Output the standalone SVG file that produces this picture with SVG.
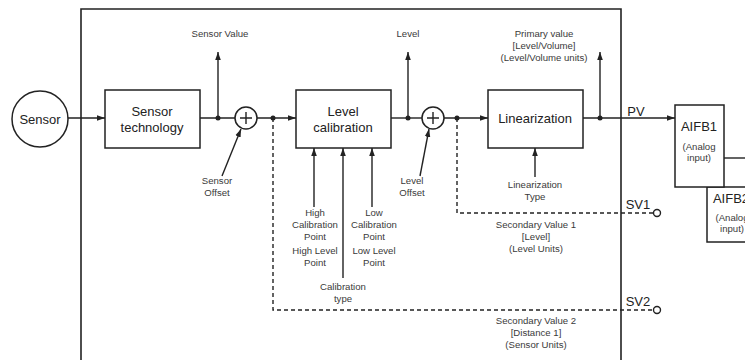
<svg xmlns="http://www.w3.org/2000/svg" width="745" height="360" viewBox="0 0 745 360">
<style>
.ln{stroke:#222;stroke-width:1.4;fill:none}
.fr{stroke:#222;stroke-width:1.6;fill:none}
.ds{stroke:#222;stroke-width:1.4;fill:none;stroke-dasharray:4,3}
.bx{stroke:#222;stroke-width:1.5;fill:#fff}
.t{font-family:"Liberation Sans",Arial,sans-serif;fill:#222;text-anchor:middle}
.b{font-size:13px}
.s{font-size:9.6px;fill:#3a3a3a}
.m{font-size:13px}
.dot{fill:#222}
</style>
<defs>
<marker id="ah" viewBox="0 0 10 10" refX="10" refY="5" markerWidth="8" markerHeight="8" markerUnits="userSpaceOnUse" orient="auto"><path d="M0,1.5 L10,5 L0,8.5 z" fill="#222"/></marker>
</defs>
<g id="frame"><path class="fr" d="M81,360 V9 H621 V360"/></g>
<g id="connectors">
<line class="ln" x1="68" y1="118" x2="105" y2="118" marker-end="url(#ah)"/>
<line class="ln" x1="200" y1="118" x2="235" y2="118"/>
<line class="ln" x1="218" y1="118" x2="218" y2="52" marker-end="url(#ah)"/>
<line class="ln" x1="222" y1="176" x2="241" y2="129" marker-end="url(#ah)"/>
<line class="ln" x1="257" y1="118" x2="296" y2="118" marker-end="url(#ah)"/>
<line class="ln" x1="391" y1="118" x2="422" y2="118"/>
<line class="ln" x1="408" y1="118" x2="408" y2="52" marker-end="url(#ah)"/>
<line class="ln" x1="420" y1="176" x2="429" y2="129" marker-end="url(#ah)"/>
<line class="ln" x1="444" y1="118" x2="488" y2="118" marker-end="url(#ah)"/>
<line class="ln" x1="583" y1="118" x2="675" y2="118" marker-end="url(#ah)"/>
<line class="ln" x1="600" y1="118" x2="600" y2="52" marker-end="url(#ah)"/>
<line class="ln" x1="314" y1="207" x2="314" y2="148" marker-end="url(#ah)"/>
<line class="ln" x1="343" y1="278" x2="343" y2="148" marker-end="url(#ah)"/>
<line class="ln" x1="372" y1="207" x2="372" y2="148" marker-end="url(#ah)"/>
<line class="ln" x1="535" y1="177" x2="535" y2="148" marker-end="url(#ah)"/>
<path class="ds" d="M273,118 V310 H653.5"/>
<path class="ds" d="M457,118 V213 H653.5"/>
<line class="ln" x1="724" y1="158" x2="745" y2="158"/>
<circle class="dot" cx="218" cy="118" r="2.5"/>
<circle class="dot" cx="273" cy="118" r="2.5"/>
<circle class="dot" cx="408" cy="118" r="2.5"/>
<circle class="dot" cx="457" cy="118" r="2.5"/>
<circle class="dot" cx="600" cy="118" r="2.5"/>
<circle cx="657" cy="213" r="3.5" fill="#fff" stroke="#222" stroke-width="1.4"/>
<circle cx="657" cy="310" r="3.5" fill="#fff" stroke="#222" stroke-width="1.4"/>
</g>
<g id="sensor"><circle class="bx" cx="40" cy="119" r="28"/><text class="t m" x="40" y="123.5">Sensor</text></g>
<g id="sensor-technology"><rect class="bx" x="105" y="90" width="95" height="58"/><text class="t b" x="152" y="116">Sensor</text><text class="t b" x="152" y="132">technology</text></g>
<g id="sum1"><circle class="bx" cx="246" cy="118" r="11"/><path class="ln" d="M240,118 H252 M246,112 V124"/></g>
<g id="level-calibration"><rect class="bx" x="296" y="90" width="95" height="58"/><text class="t b" x="343" y="116">Level</text><text class="t b" x="343" y="132">calibration</text></g>
<g id="sum2"><circle class="bx" cx="433" cy="118" r="11"/><path class="ln" d="M427,118 H439 M433,112 V124"/></g>
<g id="linearization"><rect class="bx" x="488" y="90" width="95" height="58"/><text class="t b" x="535" y="123">Linearization</text></g>
<g id="aifb2"><rect class="bx" x="707" y="187" width="50" height="55"/><text class="t b" x="731" y="203">AIFB2</text><text class="t s" x="732" y="221">(Analog</text><text class="t s" x="732" y="232">input)</text></g>
<g id="aifb1"><rect class="bx" x="675" y="105" width="49" height="82"/><text class="t b" x="699" y="131">AIFB1</text><text class="t s" x="699" y="150">(Analog</text><text class="t s" x="699" y="161">input)</text></g>
<g id="labels">
<text class="t s" x="220" y="37">Sensor Value</text>
<text class="t s" x="408" y="37">Level</text>
<text class="t s" x="544" y="37">Primary value</text>
<text class="t s" x="544" y="49">[Level/Volume]</text>
<text class="t s" x="544" y="61">(Level/Volume units)</text>
<text class="t m" x="636" y="116">PV</text>
<text class="t s" x="217" y="184">Sensor</text>
<text class="t s" x="217" y="196">Offset</text>
<text class="t s" x="412" y="184">Level</text>
<text class="t s" x="412" y="196">Offset</text>
<text class="t s" x="315" y="216">High</text>
<text class="t s" x="315" y="228">Calibration</text>
<text class="t s" x="315" y="240">Point</text>
<text class="t s" x="315" y="254">High Level</text>
<text class="t s" x="315" y="266">Point</text>
<text class="t s" x="374" y="216">Low</text>
<text class="t s" x="374" y="228">Calibration</text>
<text class="t s" x="374" y="240">Point</text>
<text class="t s" x="374" y="254">Low Level</text>
<text class="t s" x="374" y="266">Point</text>
<text class="t s" x="343" y="290">Calibration</text>
<text class="t s" x="343" y="302">type</text>
<text class="t s" x="535" y="188">Linearization</text>
<text class="t s" x="535" y="200">Type</text>
<text class="t m" x="638" y="209">SV1</text>
<text class="t s" x="536" y="228">Secondary Value 1</text>
<text class="t s" x="536" y="240">[Level]</text>
<text class="t s" x="536" y="252">(Level Units)</text>
<text class="t m" x="638" y="306">SV2</text>
<text class="t s" x="536" y="324">Secondary Value 2</text>
<text class="t s" x="536" y="336">[Distance 1]</text>
<text class="t s" x="536" y="348">(Sensor Units)</text>
</g>
</svg>
